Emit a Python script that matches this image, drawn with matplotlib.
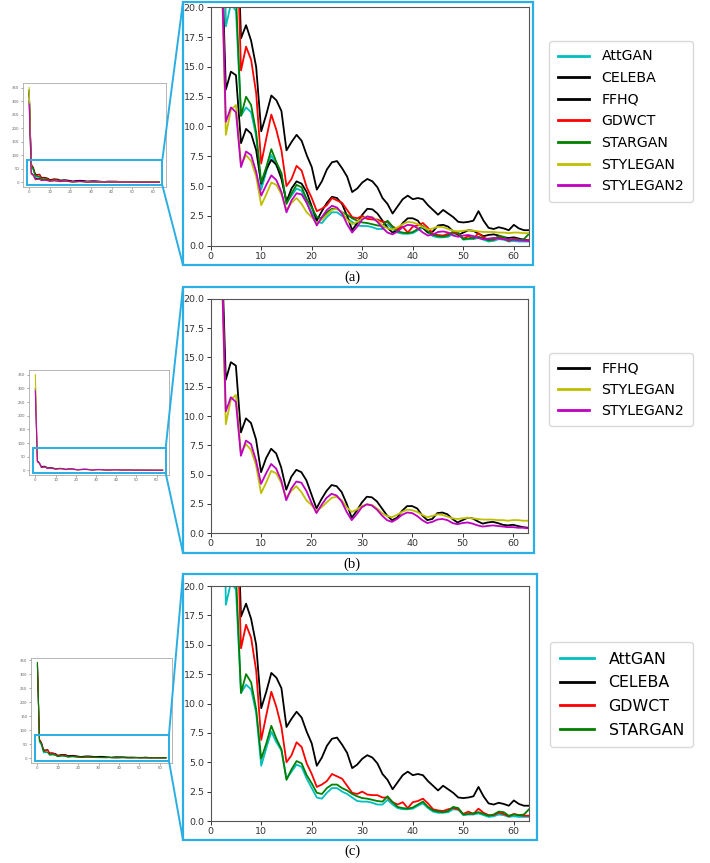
import matplotlib
matplotlib.use("Agg")
import matplotlib.pyplot as plt
from matplotlib.patches import Rectangle, ConnectionPatch
from matplotlib.lines import Line2D
import numpy as np

W, H = 710, 863

x = list(range(64))

attgan = [335, 58, 45, 18.4, 20.3, 19.7, 10.9, 11.6, 11.2, 9.2,
          4.7, 6.2, 7.6, 6.7, 6.0, 3.6, 4.2, 4.8, 4.6, 3.6,
          2.8, 2.0, 1.9, 2.4, 2.8, 2.8, 2.5, 2.3, 2.0, 1.7,
          1.65, 1.65, 1.55, 1.4, 1.4, 1.8, 1.4, 1.1, 1.0, 1.0,
          1.05, 1.3, 1.5, 1.1, 0.8, 0.7, 0.7, 0.75, 1.0, 0.95,
          0.5, 0.55, 0.55, 0.65, 0.5, 0.35, 0.4, 0.55, 0.5, 0.35,
          0.4, 0.35, 0.35, 0.35]
celeba = [330, 65, 55, 30, 28, 30, 17.4, 18.5, 17.2, 15.0,
          9.6, 11.0, 12.6, 12.2, 11.3, 8.0, 8.7, 9.3, 8.8, 7.6,
          6.6, 4.7, 5.4, 6.4, 7.0, 7.1, 6.5, 5.8, 4.5, 4.8,
          5.3, 5.6, 5.4, 4.9, 4.0, 3.5, 2.7, 3.3, 3.9, 4.2,
          3.9, 4.0, 3.9, 3.4, 3.0, 2.6, 3.0, 2.7, 2.4, 2.0,
          1.95, 2.0, 2.1, 2.9, 2.1, 1.5, 1.4, 1.55, 1.45, 1.3,
          1.75, 1.45, 1.3, 1.3]
ffhq = [300, 35, 27, 13.1, 14.6, 14.3, 8.6, 9.8, 9.4, 8.0,
        5.2, 6.4, 7.2, 6.8, 5.6, 3.7, 4.8, 5.4, 5.2, 4.5,
        3.3, 2.1, 2.9, 3.6, 4.1, 4.0, 3.5, 2.5, 1.3, 1.9,
        2.6, 3.1, 3.05, 2.7, 2.1, 1.5, 1.1, 1.3, 1.9, 2.3,
        2.3, 2.1, 1.5, 1.1, 1.2, 1.7, 1.75, 1.6, 1.2, 0.9,
        1.1, 1.3, 1.25, 1.0, 0.8, 0.9, 0.95, 0.85, 0.7, 0.65,
        0.7, 0.6, 0.5, 0.45]
gdwct = [340, 68, 52, 27, 26, 29, 14.7, 16.7, 15.6, 12.8,
         6.9, 9.0, 11.0, 9.7, 8.0, 5.0, 5.6, 6.7, 6.3, 4.9,
         4.0, 2.9, 3.1, 3.4, 4.0, 3.8, 3.6, 3.0, 2.4, 2.3,
         2.5, 2.25, 2.2, 2.2, 2.0, 2.0, 1.6, 1.4, 1.6, 1.1,
         1.6, 1.7, 1.9, 1.5, 1.0, 0.9, 0.85, 1.0, 1.1, 1.0,
         0.6, 0.8, 0.6, 1.05, 0.7, 0.5, 0.5, 0.7, 0.6, 0.4,
         0.6, 0.5, 0.45, 0.45]
stargan = [342, 62, 50, 24, 22, 21, 10.9, 12.5, 11.8, 9.5,
           5.3, 6.6, 8.1, 7.0, 6.1, 3.5, 4.4, 5.1, 4.9, 3.9,
           3.2, 2.4, 2.3, 2.8, 3.1, 3.1, 2.8, 2.6, 2.3, 2.1,
           1.95, 1.9, 1.8, 1.7, 1.65, 2.1, 1.6, 1.2, 1.1, 1.05,
           1.15, 1.4, 1.65, 1.2, 0.9, 0.8, 0.75, 0.85, 1.2, 1.1,
           0.55, 0.6, 0.65, 0.75, 0.6, 0.45, 0.55, 0.8, 0.75, 0.45,
           0.55, 0.5, 0.55, 1.0]
stylegan = [350, 30, 26, 9.3, 11.4, 11.8, 6.8, 7.6, 7.1, 5.8,
            3.4, 4.3, 5.3, 5.1, 4.3, 3.0, 3.6, 4.0, 3.5, 2.8,
            2.4, 1.9, 2.2, 2.6, 3.0, 3.1, 2.8, 2.2, 1.8, 2.0,
            2.3, 2.45, 2.4, 2.1, 1.7, 1.45, 1.35, 1.55, 1.8, 2.0,
            1.95, 1.8, 1.55, 1.35, 1.45, 1.6, 1.55, 1.4, 1.25, 1.2,
            1.25, 1.3, 1.25, 1.2, 1.15, 1.15, 1.15, 1.1, 1.1, 1.05,
            1.1, 1.1, 1.05, 1.05]
stylegan2 = [290, 32, 26, 10.4, 11.6, 11.2, 6.6, 7.9, 7.6, 6.2,
             4.2, 5.1, 5.9, 5.5, 4.5, 2.8, 3.8, 4.4, 4.3, 3.6,
             2.6, 1.7, 2.4, 3.0, 3.35, 3.2, 2.7, 1.8, 1.1, 1.6,
             2.2, 2.45, 2.35, 2.0, 1.5, 1.1, 0.95, 1.2, 1.55, 1.75,
             1.7, 1.45, 1.1, 0.85, 0.95, 1.15, 1.2, 1.1, 0.85, 0.75,
             0.85, 0.9, 0.8, 0.65, 0.55, 0.6, 0.65, 0.6, 0.55, 0.5,
             0.5, 0.45, 0.45, 0.4]

series = {
    "AttGAN": (attgan, "c"),
    "CELEBA": (celeba, "k"),
    "FFHQ": (ffhq, "k"),
    "GDWCT": (gdwct, "r"),
    "STARGAN": (stargan, "g"),
    "STYLEGAN": (stylegan, "y"),
    "STYLEGAN2": (stylegan2, "m"),
}

panels = [
    ["AttGAN", "CELEBA", "FFHQ", "GDWCT", "STARGAN", "STYLEGAN", "STYLEGAN2"],
    ["FFHQ", "STYLEGAN", "STYLEGAN2"],
    ["AttGAN", "CELEBA", "GDWCT", "STARGAN"],
]
captions = ["(a)", "(b)", "(c)"]

main_ticks_y = [0.0, 2.5, 5.0, 7.5, 10.0, 12.5, 15.0, 17.5, 20.0]
main_ticks_x = [0, 10, 20, 30, 40, 50, 60]
inset_ticks_y = [0, 50, 100, 150, 200, 250, 300, 350]

# layout in pixels
main_box = [(210.7, 529, 7.3, 245.7), (210.7, 528, 299, 533), (210.7, 529, 586, 821)]
frame_box = [(183, 533, 2, 265), (183, 534, 287, 553), (183, 537, 574, 840)]
inset_box = [(22.7, 165.7, 83, 187), (29, 169, 370, 475), (31, 172.3, 657.7, 762.7)]
legend_pos = [(549, 41), (549, 353), (550, 642)]
legend_fs = [10.2, 10.2, 11.4]
legend_sp = [0.54, 0.5, 0.55]
caption_y = [277, 564, 851]

BLUE = "#2aaee3"

fig = plt.figure(figsize=(W / 100, H / 100), dpi=100)


def fbox(l, r, t, b):
    return [l / W, 1 - b / H, (r - l) / W, (b - t) / H]


for i, names in enumerate(panels):
    # main axes
    ax = fig.add_axes(fbox(*main_box[i]))
    for n in names:
        vals, col = series[n]
        ax.plot(x, vals, color=col, lw=1.3, label=n)
    ax.set_xlim(0, 63)
    ax.set_ylim(0, 20)
    ax.set_yticks(main_ticks_y)
    ax.set_yticklabels([f"{v:.1f}" for v in main_ticks_y])
    ax.set_xticks(main_ticks_x)
    ax.tick_params(labelsize=6.8, colors="#333333", length=3, width=0.7, pad=1.5)
    for s in ax.spines.values():
        s.set_color("#555555")
        s.set_linewidth(0.8)

    # frame
    l, r, t, b = frame_box[i]
    fig.patches.append(Rectangle((l / W, 1 - b / H), (r - l) / W, (b - t) / H,
                                 transform=fig.transFigure, fill=False,
                                 edgecolor=BLUE, lw=1.6, zorder=5))

    # inset
    axi = fig.add_axes(fbox(*inset_box[i]))
    for n in names:
        vals, col = series[n]
        axi.plot(x, vals, color=col, lw=0.8)
    axi.set_yticks(inset_ticks_y)
    axi.set_xticks(main_ticks_x)
    axi.tick_params(labelsize=2.8, colors="#666666", length=1.5, width=0.4, pad=1)
    for s in axi.spines.values():
        s.set_color("#aaaaaa")
        s.set_linewidth(0.6)
    axi.add_patch(Rectangle((-1, -10), 65.5, 92, fill=False, edgecolor=BLUE,
                            lw=1.4, zorder=5, clip_on=False))
    for (xa, ya), (xb, yb) in [((64.5, 82), (l, t)), ((64.5, -10), (l, b))]:
        cp = ConnectionPatch(xyA=(xa, ya), coordsA=axi.transData,
                             xyB=(xb / W, 1 - yb / H), coordsB=fig.transFigure,
                             color=BLUE, lw=1.4, zorder=6)
        fig.add_artist(cp)

    # legend
    handles = [Line2D([], [], color=series[n][1], lw=2) for n in names]
    lx, ly = legend_pos[i]
    fig.legend(handles, names, loc="upper left",
               bbox_to_anchor=(lx / W, 1 - ly / H), bbox_transform=fig.transFigure,
               borderaxespad=0, fontsize=legend_fs[i], handlelength=2.2,
               handletextpad=0.9, labelspacing=legend_sp[i], borderpad=0.6,
               frameon=True, fancybox=True, edgecolor="#d0d0d0")

    # caption
    fig.text(352 / W, 1 - caption_y[i] / H, captions[i], ha="center", va="center",
             fontsize=10.5, family="Liberation Serif")

fig.savefig("out.png", dpi=100)
